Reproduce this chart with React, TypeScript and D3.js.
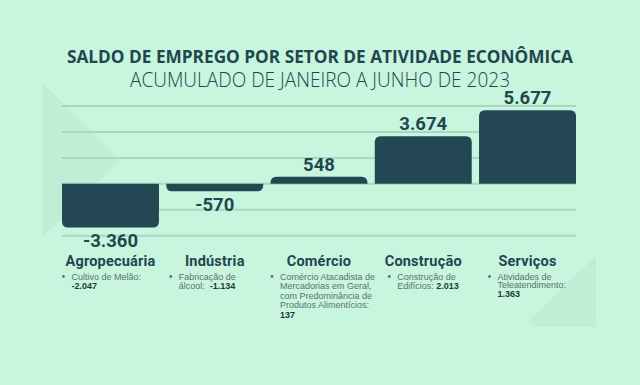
import React, { useEffect } from "react";
import * as d3 from "d3";

const categories = ["Agropecuária", "Indústria", "Comércio", "Construção", "Serviços"];
const values = [-3360, -570, 548, 3674, 5677];
const yTicks = [-4000, -2000, 0, 2000, 4000, 6000];
const highlightLines = [
  ["Cultivo de Melão:"],
  ["Fabricação de", "álcool:  "],
  ["Comércio Atacadista de", "Mercadorias em Geral,", "com Predominância de", "Produtos Alimentícios:"],
  ["Construção de", "Edifícios: "],
  ["Atividades de", "Teleatendimento:"],
];
const highlightValues = [-2047, -1134, 137, 2013, 1363];
const highlightInline = [false, true, false, true, false];

const title = "SALDO DE EMPREGO POR SETOR DE ATIVIDADE ECONÔMICA";
const subtitle = "ACUMULADO DE JANEIRO A JUNHO DE 2023";

const W = 640;
const H = 385;
const BG = "#c8f5dd";
const BAR = "#234753";
const GRID = "#a9d7c0";
const TEXT = "#234550";
const GRAY = "#5a7272";
const SHAPE = "#bdebd3";
const bulletOffset = [0, 3, 0, 13, 9];
const lineHeights = [9, 9, 9.6, 9, 8.8];

const ptBR = d3.formatLocale({ decimal: ",", thousands: ".", grouping: [3], currency: ["R$", ""], minus: "-" });
const fmt = ptBR.format(",d");

function barPath(x: number, w: number, yBase: number, yEnd: number, r: number) {
  const h = Math.abs(yEnd - yBase);
  const rr = Math.min(r, h, w / 2);
  if (yEnd < yBase) {
    return `M${x},${yBase}V${yEnd + rr}Q${x},${yEnd} ${x + rr},${yEnd}H${x + w - rr}Q${x + w},${yEnd} ${x + w},${yEnd + rr}V${yBase}Z`;
  }
  return `M${x},${yBase}V${yEnd - rr}Q${x},${yEnd} ${x + rr},${yEnd}H${x + w - rr}Q${x + w},${yEnd} ${x + w},${yEnd - rr}V${yBase}Z`;
}

export default function App() {
  useEffect(() => {
    document.body.style.margin = "0";
  }, []);

  const x = d3.scaleBand<string>().domain(categories).range([62, 576]).paddingInner(0.07).paddingOuter(0);
  const y = d3.scaleLinear().domain([-4000, 6000]).range([235.7, 106]);
  const y0 = y(0);
  const bw = x.bandwidth();

  return (
    <svg width={W} height={H} style={{ position: "absolute", left: 0, top: 0, display: "block" }}>
      <rect x={0} y={0} width={W} height={H} fill={BG} />
      <polygon points="42,82 120,161 42,238" fill={SHAPE} opacity={0.8} />
      <polygon points="596,256 529,320 536,327 596,327" fill={SHAPE} opacity={0.8} />

      <text
        x={320}
        y={63}
        textAnchor="middle"
        fontFamily="'Open Sans', sans-serif"
        fontWeight={700}
        fontSize={17}
        fill={TEXT}
        textLength={506}
        lengthAdjust="spacingAndGlyphs"
      >
        {title}
      </text>
      <text
        x={320}
        y={86.5}
        textAnchor="middle"
        fontFamily="'Open Sans', sans-serif"
        fontWeight={300}
        fontSize={19.5}
        fill={TEXT}
        textLength={380}
        lengthAdjust="spacingAndGlyphs"
      >
        {subtitle}
      </text>

      {yTicks.map((t) => (
        <line key={t} x1={62} x2={576} y1={y(t)} y2={y(t)} stroke={GRID} strokeWidth={2} />
      ))}

      {categories.map((c, i) => {
        const v = values[i];
        const bx = x(c)!;
        const yEnd = y(v);
        const cx = bx + bw / 2;
        const labelY = v < 0 ? yEnd + 19.5 : yEnd - 6;
        return (
          <g key={c}>
            <path d={barPath(bx, bw, y0, yEnd, 6)} fill={BAR} />
            <text
              x={cx}
              y={labelY}
              textAnchor="middle"
              fontFamily="Roboto, sans-serif"
              fontWeight={700}
              fontSize={18.5}
              fill={TEXT}
            >
              {fmt(v)}
            </text>
          </g>
        );
      })}

      {categories.map((c, i) => {
        const bx = x(c)!;
        const cx = bx + bw / 2;
        const bxp = bx + bulletOffset[i];
        const lines = highlightLines[i];
        const lh = lineHeights[i];
        const firstY = 279.5;
        const inline = highlightInline[i];
        const n = lines.length;
        return (
          <g key={"cat" + c}>
            <text
              x={cx}
              y={266}
              textAnchor="middle"
              fontFamily="Roboto, sans-serif"
              fontWeight={700}
              fontSize={14.5}
              fill={TEXT}
              letterSpacing={0.2}
            >
              {c}
            </text>
            <circle cx={bxp + 1.5} cy={firstY - 3} r={1.4} fill={GRAY} />
            {lines.map((ln, j) => (
              <text
                key={j}
                x={bxp + 9.5}
                y={firstY + j * lh}
                fontFamily="'Liberation Sans', Arial, sans-serif"
                fontSize={9}
                fill={GRAY}
                xmlSpace="preserve"
                style={{ whiteSpace: "pre" }}
              >
                {ln}
                {inline && j === n - 1 ? (
                  <tspan fontWeight={700} fill="#23383e">
                    {fmt(highlightValues[i])}
                  </tspan>
                ) : null}
              </text>
            ))}
            {!inline ? (
              <text
                x={bxp + 9.5}
                y={firstY + n * lh}
                fontFamily="'Liberation Sans', Arial, sans-serif"
                fontSize={9}
                fontWeight={700}
                fill="#23383e"
              >
                {fmt(highlightValues[i])}
              </text>
            ) : null}
          </g>
        );
      })}
    </svg>
  );
}
